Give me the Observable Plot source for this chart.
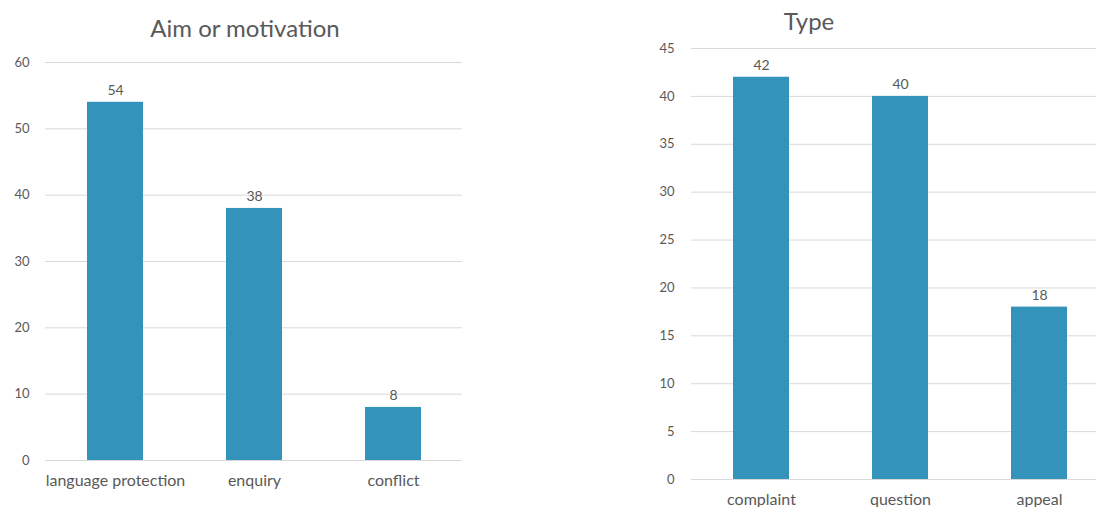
<!DOCTYPE html>
<html><head><meta charset="utf-8">
<script src="https://cdn.jsdelivr.net/npm/d3@7"></script>
<script src="https://cdn.jsdelivr.net/npm/@observablehq/plot@0.6"></script>
<style>
html,body{margin:0;padding:0;background:#fff;overflow:hidden;width:1096px;height:507px;}
#wrap{position:relative;width:1096px;height:507px;overflow:hidden;font-family:Lato,"Open Sans",sans-serif;}
.panel{position:absolute;top:0;}
.panel svg{max-width:none !important;display:block;}
.title{position:absolute;z-index:5;font-size:24px;color:#595959;white-space:nowrap;transform:translateX(-50%);}
</style></head>
<body>
<div id="wrap">
  <div class="panel" id="left" style="left:0px;width:480px;"></div>
  <div class="panel" id="right" style="left:620px;width:508px;"></div>
  <div class="title" style="left:245px;top:13px;">Aim or motivation</div>
  <div class="title" style="left:809px;top:6px;">Type</div>
</div>
<script>
const aimCategories = ["language protection", "enquiry", "conflict"];
const aimValues = [54, 38, 8];
const aimTicks = [0, 10, 20, 30, 40, 50, 60];

const typeCategories = ["complaint", "question", "appeal"];
const typeValues = [42, 40, 18];
const typeTicks = [0, 5, 10, 15, 20, 25, 30, 35, 40, 45];

const barColor = "#3493bb";
const textColor = "#595959";

function makeChart(cats, vals, ticks, opts) {
  const data = cats.map((c, i) => ({cat: c, val: vals[i]}));
  return Plot.plot({
    width: opts.width,
    height: opts.height,
    marginLeft: opts.marginLeft,
    marginRight: opts.marginRight,
    marginTop: opts.marginTop,
    marginBottom: opts.marginBottom,
    style: {fontFamily: "Lato, 'Open Sans', sans-serif", color: textColor, background: "#fff"},
    x: {domain: cats, paddingInner: 0.6, paddingOuter: 0.3, label: null},
    y: {domain: [0, ticks[ticks.length - 1]], label: null},
    marks: [
      Plot.ruleY(ticks, {stroke: "#d9d9d9", strokeWidth: 1}),
      Plot.barY(data, {x: "cat", y: "val", fill: barColor}),
      Plot.text(data, {x: "cat", y: "val", text: d => String(d.val), dy: -12, fill: textColor, fontSize: 14}),
      Plot.axisY({ticks: ticks, tickSize: 0, tickPadding: opts.yTickPadding, fontSize: 13, color: textColor, label: null}),
      Plot.axisX({tickSize: 0, tickPadding: opts.xTickPadding, fontSize: 16, color: textColor, label: null})
    ]
  });
}

const left = makeChart(aimCategories, aimValues, aimTicks, {
  width: 480, height: 507, marginLeft: 45, marginRight: 18, marginTop: 62, marginBottom: 47,
  xTickPadding: 14, yTickPadding: 16
});
document.getElementById("left").appendChild(left);

const right = makeChart(typeCategories, typeValues, typeTicks, {
  width: 508, height: 507, marginLeft: 71, marginRight: 20, marginTop: 48, marginBottom: 28,
  xTickPadding: 14, yTickPadding: 17
});
document.getElementById("right").appendChild(right);
</script>
</body></html>
